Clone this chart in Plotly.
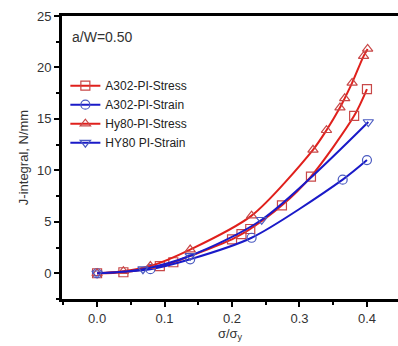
import plotly.graph_objects as go

a302_stress_x = [0.0, 0.039, 0.093, 0.113, 0.200, 0.214, 0.227, 0.274, 0.317, 0.381, 0.400]
a302_stress_y = [0.0, 0.1, 0.7, 1.07, 3.3, 3.8, 4.3, 6.6, 9.4, 15.3, 17.9]

a302_strain_x = [0.0, 0.079, 0.138, 0.229, 0.364, 0.400]
a302_strain_y = [0.0, 0.4, 1.36, 3.45, 9.1, 11.0]

hy80_stress_x = [0.0, 0.039, 0.079, 0.138, 0.229, 0.320, 0.340, 0.360, 0.367, 0.378, 0.395, 0.401]
hy80_stress_y = [0.0, 0.2, 0.7, 2.3, 5.6, 12.0, 13.9, 16.1, 17.0, 18.5, 21.1, 21.8]

hy80_strain_x = [0.0, 0.068, 0.138, 0.244, 0.402]
hy80_strain_y = [0.0, 0.4, 1.7, 5.2, 14.7]

RED = "#e0201c"
BLUE = "#1a1ac8"
RED_M = "#c84848"
BLUE_M = "#4a5ac0"

series = [
    ("A302-PI-Stress", a302_stress_x, a302_stress_y, RED, RED_M, "square-open"),
    ("A302-PI-Strain", a302_strain_x, a302_strain_y, BLUE, BLUE_M, "circle-open"),
    ("Hy80-PI-Stress", hy80_stress_x, hy80_stress_y, RED, RED_M, "triangle-up-open"),
    ("HY80 PI-Strain", hy80_strain_x, hy80_strain_y, BLUE, BLUE_M, "triangle-down-open"),
]

fig = go.Figure()
for name, xs, ys, lc, mc, sym in series:
    fig.add_trace(go.Scatter(
        x=xs, y=ys, name=name, mode="lines+markers",
        line=dict(color=lc, width=2, shape="spline", smoothing=0.8),
        marker=dict(symbol=sym, size=9, color=mc, line=dict(width=1.2, color=mc)),
    ))

fig.update_layout(
    width=398, height=346,
    margin=dict(l=62, r=0, t=16, b=47),
    paper_bgcolor="white", plot_bgcolor="white",
    font=dict(family="Liberation Sans, Arial, sans-serif", size=13, color="#333333"),
    showlegend=True,
    legend=dict(x=0.01, y=0.805, xanchor="left", yanchor="top",
                bgcolor="rgba(0,0,0,0)", font=dict(size=12, color="#222222"),
                tracegroupgap=0, itemwidth=30),
    annotations=[dict(text="a/W=0.50", x=0.025, y=0.96, xref="paper", yref="paper",
                      xanchor="left", yanchor="top", showarrow=False,
                      font=dict(size=14, color="#333333"))],
)

fig.update_xaxes(
    range=[-0.052, 0.446], tickvals=[0.0, 0.1, 0.2, 0.3, 0.4],
    ticktext=["0.0", "0.1", "0.2", "0.3", "0.4"],
    showgrid=False, zeroline=False, showline=True, linewidth=3, linecolor="black",
    mirror=True, ticks="outside", ticklen=5, tickwidth=2, tickcolor="black",
    minor=dict(tickvals=[-0.05, 0.05, 0.15, 0.25, 0.35], ticks="outside", ticklen=3, tickwidth=2, tickcolor="black"),
    title=dict(text="σ/σ<sub>y</sub>", standoff=4, font=dict(size=13)),
)
fig.update_yaxes(
    range=[-2.5, 25], tickvals=[0, 5, 10, 15, 20, 25],
    showgrid=False, zeroline=False, showline=True, linewidth=3, linecolor="black",
    ticks="outside", ticklen=5, tickwidth=2, tickcolor="black",
    minor=dict(tickvals=[-2.5, 2.5, 7.5, 12.5, 17.5, 22.5], ticks="outside", ticklen=3, tickwidth=2, tickcolor="black"),
    title=dict(text="J-integral, N/mm", standoff=6, font=dict(size=13)),
)

fig.write_html("out.html")
